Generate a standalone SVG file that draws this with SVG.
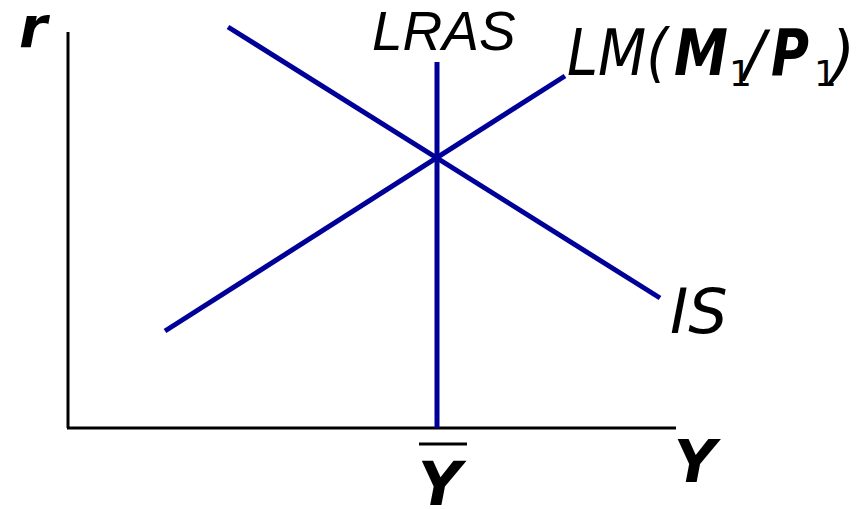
<svg xmlns="http://www.w3.org/2000/svg" width="865" height="509" viewBox="0 0 865 509">
<style>
.ax{stroke:#000;stroke-width:3;fill:none}
.cv{stroke:#000099;stroke-width:5;fill:none}
.t{font-family:"DejaVu Sans",Verdana,sans-serif;fill:#000}
.it{font-style:oblique}
.bd{font-weight:bold;font-style:oblique}
.ar{font-family:"Liberation Sans",Arial,sans-serif;font-style:italic;fill:#000}
</style>
<rect width="865" height="509" fill="#fff"/>
<g id="axes">
<line class="ax" x1="68" y1="32" x2="68" y2="428"/>
<line class="ax" x1="67" y1="428" x2="676" y2="428"/>
</g>
<g id="connectors">
<line id="IS" class="cv" x1="228" y1="27" x2="660" y2="298"/>
<line id="LM" class="cv" x1="165" y1="331" x2="565" y2="76"/>
<line id="LRAS" class="cv" x1="437" y1="62" x2="437" y2="428"/>
</g>
<g id="labels">
<text id="r" class="t bd" x="19" y="47" font-size="57">r</text>
<text id="lras" class="ar" x="372" y="50" font-size="55">LRAS</text>
<g id="lm">
<text class="t it" x="567" y="75" font-size="64" textLength="101" lengthAdjust="spacingAndGlyphs">LM(</text>
<text class="t bd" x="674" y="75" font-size="64" textLength="54" lengthAdjust="spacingAndGlyphs">M</text>
<text class="t" x="729" y="86" font-size="36">1</text>
<text class="t it" x="744" y="75" font-size="62">/</text>
<text class="t bd" x="771" y="75" font-size="64" textLength="38" lengthAdjust="spacingAndGlyphs">P</text>
<text class="t" x="814" y="86" font-size="36">1</text>
<text class="t it" x="831" y="75" font-size="62">)</text>
</g>
<text id="is" class="t it" x="670" y="333" font-size="62">IS</text>
<line x1="419" y1="444" x2="467" y2="444" stroke="#000" stroke-width="3"/>
<text id="ybar" class="t bd" x="418" y="505" font-size="60">Y</text>
<text id="y" class="t bd" x="674" y="482" font-size="58">Y</text>
</g>
</svg>
